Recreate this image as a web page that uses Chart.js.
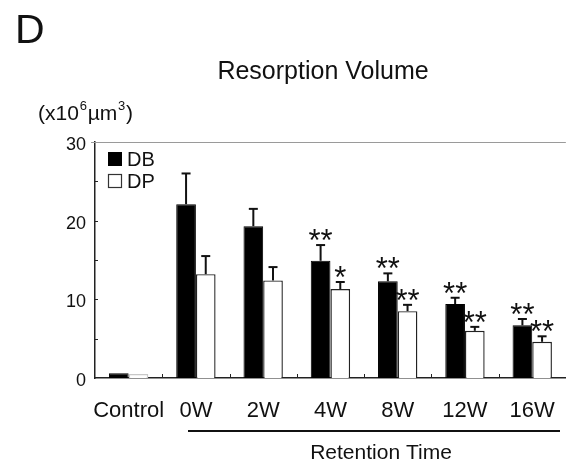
<!DOCTYPE html>
<html>
<head>
<meta charset="utf-8">
<script src="https://cdn.jsdelivr.net/npm/chart.js@4.4.1/dist/chart.umd.min.js"></script>
<style>
  html, body { margin: 0; padding: 0; background: #fff; overflow: hidden; }
  #wrap { position: relative; width: 575px; height: 466px; }
</style>
</head>
<body>
<div id="wrap"><canvas id="chart" width="575" height="466"></canvas></div>
<script>
// values (x10^6 um^3)
const categories = ["Control", "0W", "2W", "4W", "8W", "12W", "16W"];
const dbMeans = [0.6, 22.1, 19.3, 14.9, 12.3, 9.4, 6.7];
const dbErrors = [0, 3.9, 2.2, 2.0, 1.0, 0.8, 0.8];
const dpMeans = [0.5, 13.2, 12.4, 11.3, 8.5, 6.0, 4.6];
const dpErrors = [0, 2.3, 1.7, 0.9, 0.8, 0.5, 0.7];
const dbMarks = ["", "", "", "**", "**", "**", "**"];
const dpMarks = ["", "", "", "*", "**", "**", "**"];
const yTicks = [0, 10, 20, 30];

const FONT = '"Liberation Sans", Arial, sans-serif';

function line(ctx, x1, y1, x2, y2) {
    ctx.beginPath();
    ctx.moveTo(x1, y1);
    ctx.lineTo(x2, y2);
    ctx.stroke();
}

// extra drawing: titles, legend, error bars, stars, inner ticks
const annotate = {
    id: "annotate",
    afterDraw(chart) {
        const ctx = chart.ctx;
        const xs = chart.scales.x, ys = chart.scales.y, a = chart.chartArea;
        ctx.save();
        ctx.fillStyle = "#111";

        // panel letter and title
        ctx.textAlign = "left";
        ctx.textBaseline = "alphabetic";
        ctx.font = "41px " + FONT;
        ctx.fillText("D", 15, 43);
        ctx.textAlign = "center";
        ctx.font = "25px " + FONT;
        ctx.fillText("Resorption Volume", 323, 79);

        // unit label (x10^6 um^3)
        ctx.textAlign = "left";
        let ux = 38;
        const parts = [["(x10", 21, 0], ["6", 13, -10], ["\u00b5m", 21, 0], ["3", 13, -10], [")", 21, 0]];
        parts.forEach(([t, size, dy]) => {
            ctx.font = size + "px " + FONT;
            ctx.fillText(t, ux, 120 + dy);
            ux += ctx.measureText(t).width + 0.8;
        });

        // top frame line
        ctx.strokeStyle = "#9a9a9a";
        ctx.lineWidth = 1;
        line(ctx, a.left - 4, a.top + 0.5, a.right, a.top + 0.5);

        // inward ticks
        ctx.strokeStyle = "#222";
        for (let v = 5; v < 30; v += 5) {
            const py = Math.round(ys.getPixelForValue(v)) + 0.5;
            line(ctx, a.left, py, a.left + 3, py);
        }
        for (let i = 1; i < categories.length; i++) {
            const px = Math.round((xs.getPixelForValue(i - 1) + xs.getPixelForValue(i)) / 2) + 0.5;
            line(ctx, px, a.bottom, px, a.bottom - 4);
        }

        // error bars and significance marks
        const errs = [dbErrors, dpErrors];
        const marks = [dbMarks, dpMarks];
        chart.data.datasets.forEach((ds, d) => {
            const meta = chart.getDatasetMeta(d);
            meta.data.forEach((bar, j) => {
                const err = errs[d][j];
                const top = ys.getPixelForValue(ds.data[j] + err);
                if (err > 0) {
                    ctx.strokeStyle = "#111";
                    ctx.lineWidth = 2;
                    line(ctx, bar.x, ys.getPixelForValue(ds.data[j]), bar.x, top);
                    line(ctx, bar.x - 4.5, top, bar.x + 4.5, top);
                }
                if (marks[d][j]) {
                    ctx.textAlign = "center";
                    ctx.font = "31px " + FONT;
                    ctx.fillText(marks[d][j], bar.x, top + 6);
                }
            });
        });

        // legend inside plot area
        ctx.textAlign = "left";
        ctx.font = "20px " + FONT;
        chart.data.datasets.forEach((ds, d) => {
            const ly = 152 + d * 22;
            if (d === 0) {
                ctx.fillStyle = "#000";
                ctx.fillRect(108, ly, 14, 14);
            } else {
                ctx.strokeStyle = "#333";
                ctx.lineWidth = 1.2;
                ctx.strokeRect(108.5, ly + 0.5, 13, 13);
            }
            ctx.fillStyle = "#111";
            ctx.fillText(ds.label, 127, ly + 14);
        });

        // group line and caption below axis
        ctx.strokeStyle = "#111";
        ctx.lineWidth = 2;
        line(ctx, 188, 431, 560, 431);
        ctx.textAlign = "center";
        ctx.font = "21px " + FONT;
        ctx.fillText("Retention Time", 381, 459);
        ctx.restore();
    }
};

new Chart(document.getElementById("chart"), {
    type: "bar",
    data: {
        labels: categories,
        datasets: [{
            label: "DB",
            data: dbMeans,
            backgroundColor: "#000",
            borderColor: "#000",
            borderWidth: 1
        }, {
            label: "DP",
            data: dpMeans,
            backgroundColor: "#fff",
            borderColor: ["#c8c8c8", "#222", "#222", "#222", "#222", "#222", "#222"],
            borderWidth: 1.4
        }]
    },
    options: {
        responsive: false,
        animation: false,
        devicePixelRatio: 1,
        layout: { padding: { top: 142, left: 0, right: 2, bottom: 0 } },
        categoryPercentage: 0.585,
        barPercentage: 1,
        plugins: {
            legend: { display: false },
            tooltip: { enabled: false }
        },
        scales: {
            x: {
                grid: { display: false, drawTicks: false },
                border: { color: "#222", width: 1.5 },
                ticks: {
                    color: "#111",
                    font: { size: 22, family: FONT },
                    padding: 20,
                    maxRotation: 0,
                    autoSkip: false
                },
                afterFit: s => { s.height = 88; }
            },
            y: {
                min: 0,
                max: 30,
                grid: { display: false, drawTicks: false },
                border: { color: "#222", width: 1.5 },
                afterBuildTicks: s => { s.ticks = yTicks.map(v => ({ value: v })); },
                ticks: {
                    color: "#111",
                    font: { size: 18, family: FONT },
                    padding: 9,
                    labelOffset: 3
                },
                afterFit: s => { s.width = 95; }
            }
        }
    },
    plugins: [annotate]
});
</script>
</body>
</html>
